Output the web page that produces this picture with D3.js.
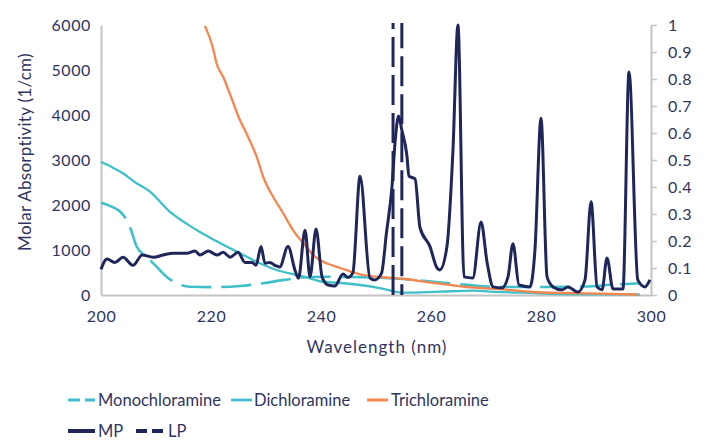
<!DOCTYPE html>
<html><head><meta charset="utf-8">
<script src="https://cdn.jsdelivr.net/npm/d3@7"></script>
<style>
html,body{margin:0;padding:0;background:#fff;}
svg text{font-family:Lato,"Open Sans",sans-serif;fill:#2f3560;}
</style></head>
<body><svg id="chart" width="706" height="441"></svg>
<script>
// ---------- data ----------
const xTicks = [200, 220, 240, 260, 280, 300];
const yLeftTicks = [0, 1000, 2000, 3000, 4000, 5000, 6000];
const yRightTicks = [0, 0.1, 0.2, 0.3, 0.4, 0.5, 0.6, 0.7, 0.8, 0.9, 1];

const monoWl  = [200, 202, 203.5, 204.5, 205.3, 206.5, 208.3, 210.1, 211.9, 213.8, 216.2, 221, 225.3, 229.5, 233, 236.7, 240, 245, 250.7, 255.6, 260, 266, 272, 280, 288, 293, 298];
const monoVal = [2050, 1960, 1850, 1700, 1500, 1073, 851, 629, 407, 259, 185, 175, 200, 262, 330, 390, 405, 400, 385, 350, 300, 230, 180, 178, 190, 230, 260];

const diWl  = [200, 202, 204, 206, 208.9, 212.5, 215.6, 218, 220, 223.5, 225.3, 228.9, 231.9, 235.6, 238, 240, 243.5, 247.1, 250.7, 255, 261.6, 267.7, 270.7, 276.8, 282, 290, 298];
const diVal = [2960, 2840, 2704, 2520, 2296, 1852, 1580, 1400, 1260, 1037, 926, 704, 556, 444, 370, 300, 267, 222, 155, 52, 74, 96, 74, 52, 25, 15, 10];

const triWl  = [218.9, 220.4, 221.0, 222.2, 223.5, 225, 226.8, 228.3, 229.5, 231.3, 233.1, 234.9, 236.8, 238.9, 241, 243.5, 247.1, 250.7, 255.6, 260.4, 266.5, 272.5, 278.5, 284.7, 290.7, 297.6];
const triVal = [5980, 5470, 5150, 4850, 4450, 3960, 3500, 3074, 2622, 2178, 1822, 1444, 1148, 852, 704, 600, 460, 400, 350, 267, 178, 130, 67, 44, 30, 10];

const mpWl  = [200, 201.1, 202.5, 204, 205.8, 207.5, 209.5, 211.3, 213.1, 215.6, 217.1, 218, 219.5, 221.1, 222.2, 223.5, 224.9, 226.2, 227.5, 228.2, 229.1, 229.8, 230.7, 231.6, 232.5, 234, 235.3, 235.9, 237.1, 238, 239.1, 240.2, 241.3, 242.5, 244, 244.9, 245.8, 247.1, 248.9, 249.8, 251.0, 251.9, 252.9, 253.5, 254.1, 254.7, 255.6, 256, 257.1, 258, 259.8, 261.1, 261.6, 262.9, 264, 264.9, 266, 267.6, 269.1, 270.2, 271.3, 272.9, 274, 274.9, 276, 278, 278.9, 280, 281.1, 282.2, 283.8, 284.9, 286.7, 288, 289.1, 290.2, 291.1, 292, 293.1, 294.9, 296, 297.6, 298.9, 299.8];
const mpVal = [0.095, 0.133, 0.12, 0.14, 0.11, 0.148, 0.14, 0.148, 0.155, 0.155, 0.163, 0.148, 0.163, 0.148, 0.158, 0.14, 0.158, 0.12, 0.12, 0.11, 0.18, 0.118, 0.12, 0.11, 0.104, 0.18, 0.09, 0.062, 0.24, 0.067, 0.244, 0.067, 0.037, 0.033, 0.078, 0.065, 0.083, 0.44, 0.063, 0.056, 0.08, 0.23, 0.40, 0.574, 0.663, 0.61, 0.52, 0.44, 0.43, 0.25, 0.18, 0.10, 0.093, 0.18, 0.54, 1.0, 0.067, 0.063, 0.27, 0.12, 0.03, 0.026, 0.067, 0.19, 0.037, 0.03, 0.167, 0.655, 0.067, 0.03, 0.019, 0.03, 0.011, 0.056, 0.345, 0.03, 0.019, 0.137, 0.022, 0.022, 0.826, 0.056, 0.03, 0.056];

const lpWl  = [253.1, 253.1, 254.7, 254.7];
const lpVal = [0, 1.2, 1.2, 0];

const legendNames = ["Monochloramine", "Dichloramine", "Trichloramine", "MP", "LP"];

// ---------- styles ----------
const TEAL = "#3fc0c9", ORANGE = "#f5864f", NAVY = "#1f265a", AXIS = "#c4c4c4";

const svg = d3.select("#chart");
svg.append("rect").attr("width", 706).attr("height", 441).attr("fill", "#fff");

const x = d3.scaleLinear().domain([200, 300]).range([101, 651]);
const yL = d3.scaleLinear().domain([0, 6000]).range([295, 25]);
const yR = d3.scaleLinear().domain([0, 1]).range([295, 25]);

svg.append("defs").append("clipPath").attr("id", "clip")
  .append("rect").attr("x", 90).attr("y", 23).attr("width", 580).attr("height", 290);

// axes
const gL = svg.append("g").attr("transform", "translate(101,0)")
  .call(d3.axisLeft(yL).tickValues(yLeftTicks).tickSize(0).tickPadding(10).tickFormat(d3.format("d")));
const gR = svg.append("g").attr("transform", "translate(651,0)")
  .call(d3.axisRight(yR).tickValues(yRightTicks).tickSize(6).tickSizeOuter(0).tickPadding(11).tickFormat(d => String(+d.toFixed(1))));
const gB = svg.append("g").attr("transform", "translate(0,295)")
  .call(d3.axisBottom(x).tickValues(xTicks).tickSize(0).tickPadding(16).tickFormat(d3.format("d")));

[gL, gR, gB].forEach(g => {
  g.select(".domain").attr("stroke", AXIS).attr("stroke-width", 2);
  g.selectAll(".tick line").attr("stroke", AXIS).attr("stroke-width", 1.5);
  g.selectAll("text").attr("font-size", 16).attr("letter-spacing", 0.6)
    .attr("fill", "#2f3560").attr("font-family", "Lato");
});

// titles
svg.append("text").attr("x", 377).attr("y", 353).attr("text-anchor", "middle")
  .attr("font-size", 17).attr("letter-spacing", 1).text("Wavelength (nm)");
svg.append("text").attr("transform", "translate(31,152) rotate(-90)").attr("text-anchor", "middle")
  .attr("font-size", 17).attr("letter-spacing", 0.3).text("Molar Absorptivity (1/cm)");

// lines
const plot = svg.append("g").attr("clip-path", "url(#clip)");
function series(wl, val, yScale, curve) {
  return d3.line().x((d, i) => x(wl[i])).y((d, i) => yScale(val[i])).curve(curve)(val);
}
plot.append("path").attr("d", series(monoWl, monoVal, yL, d3.curveMonotoneX))
  .attr("fill", "none").attr("stroke", TEAL).attr("stroke-width", 2.6).attr("stroke-dasharray", "30,10");
plot.append("path").attr("d", series(diWl, diVal, yL, d3.curveMonotoneX))
  .attr("fill", "none").attr("stroke", TEAL).attr("stroke-width", 2.3);
plot.append("path").attr("d", series(triWl, triVal, yL, d3.curveMonotoneX))
  .attr("fill", "none").attr("stroke", ORANGE).attr("stroke-width", 2.3);
plot.append("path").attr("d", series(mpWl, mpVal, yR, d3.curveMonotoneX))
  .attr("fill", "none").attr("stroke", NAVY).attr("stroke-width", 3).attr("stroke-linejoin", "round");
plot.append("path").attr("d", series(lpWl, lpVal, yR, d3.curveLinear))
  .attr("fill", "none").attr("stroke", NAVY).attr("stroke-width", 3).attr("stroke-dasharray", "30,8");

// legend
const legendItems = [
  {name: legendNames[0], color: TEAL, dash: "12,5", w: 3, x0: 68, x1: 95, tx: 98, y: 400},
  {name: legendNames[1], color: TEAL, dash: null, w: 2.8, x0: 231, x1: 252, tx: 254, y: 400},
  {name: legendNames[2], color: ORANGE, dash: null, w: 3, x0: 367, x1: 388, tx: 391, y: 400},
  {name: legendNames[3], color: NAVY, dash: null, w: 4, x0: 68, x1: 95, tx: 98, y: 431},
  {name: legendNames[4], color: NAVY, dash: "11,5", w: 4, x0: 136, x1: 165, tx: 168, y: 431}
];
const lg = svg.append("g");
legendItems.forEach(it => {
  lg.append("line").attr("x1", it.x0).attr("x2", it.x1).attr("y1", it.y).attr("y2", it.y)
    .attr("stroke", it.color).attr("stroke-width", it.w).attr("stroke-dasharray", it.dash);
  lg.append("text").attr("x", it.tx).attr("y", it.y).attr("dy", "0.35em")
    .attr("font-size", 16.5).text(it.name);
});
</script></body></html>
